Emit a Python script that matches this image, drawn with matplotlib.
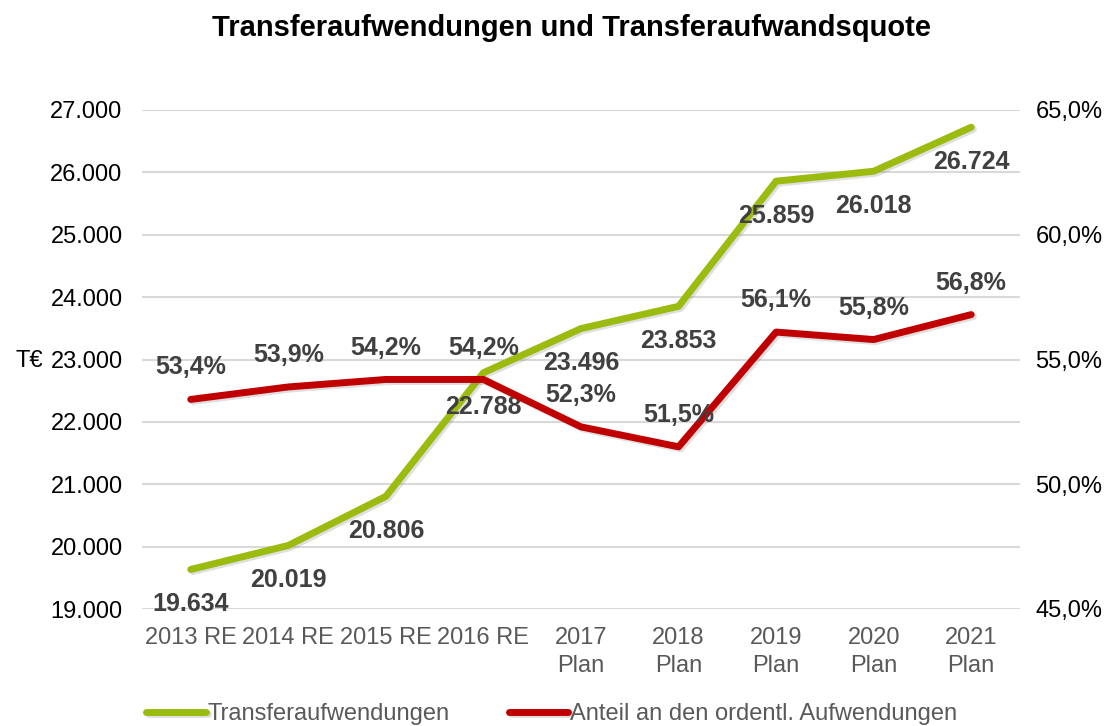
import matplotlib.pyplot as plt
import matplotlib.patheffects as pe
from matplotlib.ticker import FuncFormatter

plt.rcParams['font.family'] = ['Liberation Sans', 'DejaVu Sans']

# Daten
kategorien = ['2013 RE', '2014 RE', '2015 RE', '2016 RE', '2017\nPlan',
              '2018\nPlan', '2019\nPlan', '2020\nPlan', '2021\nPlan']
transfer = [19634, 20019, 20806, 22788, 23496, 23853, 25859, 26018, 26724]
anteil = [53.4, 53.9, 54.2, 54.2, 52.3, 51.5, 56.1, 55.8, 56.8]

gruen = '#9BBB0E'
rot = '#C00000'
textgrau = '#404040'

fig = plt.figure(figsize=(11.11, 7.26), dpi=100)
ax = fig.add_axes([142 / 1111, 1 - 609 / 726, (1020 - 142) / 1111, (609 - 110) / 726])
ax2 = ax.twinx()

x = list(range(len(kategorien)))
schatten = [pe.SimpleLineShadow(offset=(1.5, -1.5), alpha=0.25, shadow_color='gray'), pe.Normal()]

l1, = ax.plot(x, transfer, color=gruen, lw=5, solid_capstyle='round',
              path_effects=schatten, label='Transferaufwendungen', zorder=3)
l2, = ax2.plot(x, anteil, color=rot, lw=5, solid_capstyle='round',
               path_effects=schatten, label='Anteil an den ordentl. Aufwendungen', zorder=3)

ax.set_xlim(-0.5, len(kategorien) - 0.5)
ax.set_ylim(19000, 27000)
ax2.set_ylim(45, 65)
ax.set_yticks(range(19000, 27001, 1000))
ax2.set_yticks([45, 50, 55, 60, 65])

ax.yaxis.set_major_formatter(FuncFormatter(lambda v, p: f'{int(v):,}'.replace(',', '.')))
ax2.yaxis.set_major_formatter(FuncFormatter(lambda v, p: f'{v:.1f}%'.replace('.', ',')))

ax.grid(axis='y', color='#d9d9d9', lw=1.5)
ax.set_axisbelow(True)
for a in (ax, ax2):
    for s in a.spines.values():
        s.set_visible(False)
    a.tick_params(length=0, labelsize=17, labelcolor='black')
ax.tick_params(axis='y', pad=14)
ax2.tick_params(axis='y', pad=11)

ax.set_xticks(x)
ax.set_xticklabels(kategorien, fontsize=17, color='#595959', linespacing=1.34, va='top')
ax.tick_params(axis='x', pad=13)

# Datenbeschriftungen
for xi, v in zip(x, transfer):
    ax.annotate(f'{v:,}'.replace(',', '.'), (xi, v), xytext=(0, -25), textcoords='offset points',
                ha='center', va='center', fontsize=18, fontweight='bold', color=textgrau, zorder=5)
for xi, v in zip(x, anteil):
    ax2.annotate(f'{v:.1f}%'.replace('.', ','), (xi, v), xytext=(0, 23), textcoords='offset points',
                 ha='center', va='center', fontsize=18, fontweight='bold', color=textgrau, zorder=5)

fig.text(15 / 1111, 1 - 361 / 726, 'T€', fontsize=17, va='center', ha='left')
fig.text(572 / 1111, 1 - 28 / 726, 'Transferaufwendungen und Transferaufwandsquote',
         ha='center', va='center', fontsize=21, fontweight='bold')

fig.legend(handles=[l1, l2], loc='center', bbox_to_anchor=(552 / 1111, 1 - 714 / 726), ncol=2,
           frameon=False, fontsize=17, handlelength=2.5, handletextpad=0.1, columnspacing=2.5,
           labelcolor='#595959')

plt.savefig('out.png', dpi=100)
